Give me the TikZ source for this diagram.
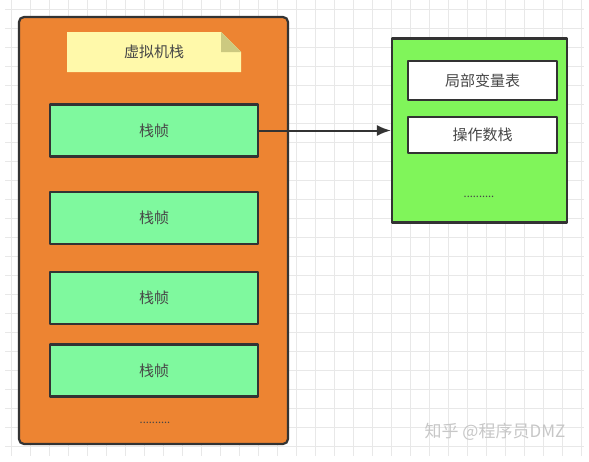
\documentclass[tikz,border=0pt]{standalone}
\usepackage{fontspec}
\setmainfont{Noto Sans CJK SC}
\usetikzlibrary{arrows.meta}
\definecolor{stackorange}{RGB}{237,132,50}
\definecolor{framegreen}{RGB}{127,249,158}
\definecolor{localgreen}{RGB}{128,245,90}
\definecolor{noteyellow}{RGB}{255,249,170}
\definecolor{notefold}{RGB}{204,201,128}
\definecolor{edge}{RGB}{51,51,51}
\begin{document}
\begin{tikzpicture}[x=1pt,y=-1pt, line join=round, >={Latex[length=14pt,width=11pt]},
	font=\fontsize{15}{18}\selectfont, text=edge!90,
	box/.style={draw=edge, line width=2.2pt, inner sep=0pt},
	frame/.style={box, fill=framegreen, minimum width=208pt, minimum height=52pt},
	slot/.style={box, fill=white, minimum width=149pt},
	gridline/.style={black!9, line width=0.8pt}]
	\useasboundingbox (0,0) rectangle (589,461);
	\fill[white] (0,0) rectangle (589,461);
	% background grid
	\foreach \i in {0,...,30}
	\draw[gridline] (11.7+19*\i,0)--(11.7+19*\i,456);
	\foreach \j in {0,...,23}
	\draw[gridline] (5,9.3+19*\j)--(584,9.3+19*\j);
	% virtual machine stack
	\node[box, fill=stackorange, rounded corners=5pt, minimum width=269pt, minimum height=427pt] (stack) at (153.5,230.5) {};
	\fill[noteyellow] (67,32)--(221,32)--(241,52)--(241,72)--(67,72)--cycle;
	\fill[notefold] (221,32)--(241,52)--(221,52)--cycle;
	\node (title) at (154,52) {虚拟机栈};
	\node[frame] (f1) at (154,130.5) {栈帧};
	\node[frame] (f2) at (154,218) {栈帧};
	\node[frame] (f3) at (154,298) {栈帧};
	\node[frame] (f4) at (154,370.5) {栈帧};
	\node[font=\fontsize{11}{12}\selectfont] (more) at (155,423) {..........};
	% one frame in detail
	\node[box, fill=localgreen, minimum width=175pt, minimum height=184pt] (detail) at (479.5,130.5) {};
	\node[slot, minimum height=39pt] (locals) at (482.5,80.5) {局部变量表};
	\node[slot, minimum height=36pt] (operands) at (482.5,135) {操作数栈};
	\node[font=\fontsize{11}{12}\selectfont] (etc) at (479,197) {..........};
	\draw[->, edge, line width=2pt] (f1)--(detail);
	\node[text=black!22, font=\fontsize{17}{20}\selectfont] (mark) at (495,432) {知乎 @程序员DMZ};
\end{tikzpicture}
\end{document}
